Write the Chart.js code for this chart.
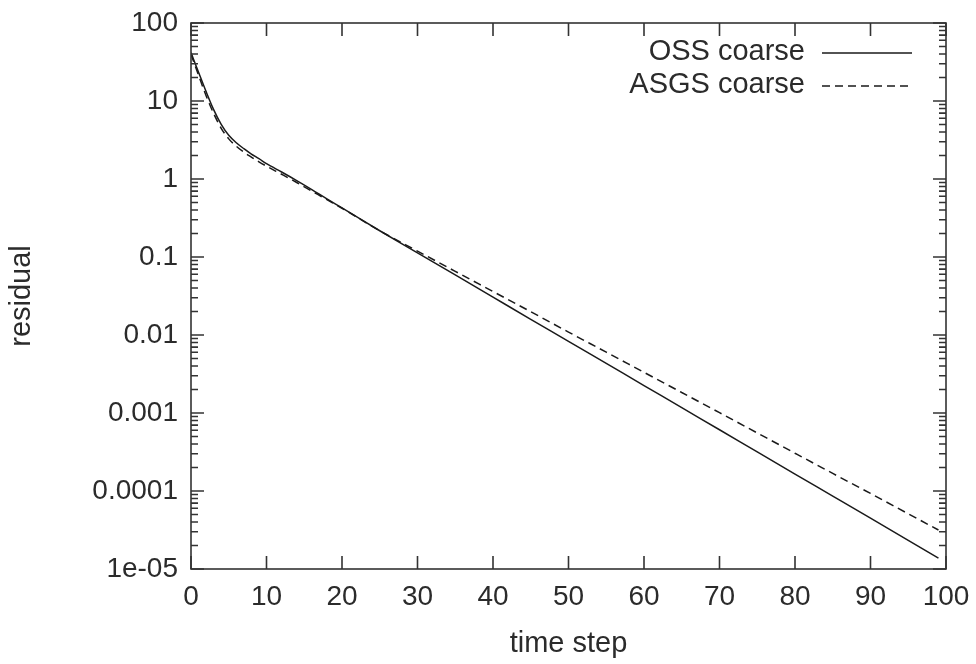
<!DOCTYPE html>
<html><head><meta charset="utf-8">
<script src="https://cdn.jsdelivr.net/npm/chart.js@4.4.0/dist/chart.umd.min.js"></script>
<style>html,body{margin:0;padding:0;background:#fff;}#wrap{width:976px;height:664px;}</style>
</head><body><div id="wrap"><canvas id="c" width="976" height="664"></canvas></div>
<script>
const timeSteps = [0,1,2,3,4,5,6,7,8,9,10,12,14,16,18,20,25,30,35,40,45,50,55,60,65,70,75,80,85,90,95,99];
const ossCoarse = [41.7,23.4,13.2,7.76,5.01,3.63,2.92,2.45,2.09,1.82,1.57,1.23,0.955,0.733,0.556,0.427,0.217,0.113,0.0589,0.0306,0.0159,0.0083,0.00432,0.00225,0.00117,6.1e-4,3.17e-4,1.65e-4,8.6e-5,4.48e-5,2.33e-5,1.38e-5];
const asgsCoarse = [39.8,21.4,11.7,6.92,4.47,3.27,2.63,2.21,1.91,1.66,1.46,1.15,0.902,0.70,0.543,0.422,0.217,0.119,0.0655,0.0361,0.0199,0.0109,0.00603,0.00332,0.00183,0.00101,5.55e-4,3.05e-4,1.68e-4,9.3e-5,5.1e-5,3.16e-5];
const seriesNames = ['OSS coarse','ASGS coarse'];
const xTickValues = [0,10,20,30,40,50,60,70,80,90,100];
const yTickValues = [1e-5,1e-4,1e-3,1e-2,0.1,1,10,100];
const yTickLabels = ['1e-05','0.0001','0.001','0.01','0.1','1','10','100'];
const xTitle = 'time step';
const yTitle = 'residual';

const FONT = "'Liberation Sans', Arial, Helvetica, sans-serif";
const TXT = '#2b2b2b';
const LINE = '#1a1a1a';

const framePlugin = {
  id: 'frame',
  afterDraw(chart) {
    const {ctx, chartArea: {left, right, top, bottom}, scales: {x, y}} = chart;
    ctx.save();
    ctx.strokeStyle = '#333';
    ctx.lineWidth = 1.6;
    ctx.strokeRect(left, top, right - left, bottom - top);
    ctx.beginPath();
    x.ticks.forEach(t => {
      const px = x.getPixelForValue(t.value);
      ctx.moveTo(px, bottom); ctx.lineTo(px, bottom - 13);
      ctx.moveTo(px, top); ctx.lineTo(px, top + 13);
    });
    y.ticks.forEach(t => {
      const py = y.getPixelForValue(t.value);
      ctx.moveTo(left, py); ctx.lineTo(left + 13, py);
      ctx.moveTo(right, py); ctx.lineTo(right - 13, py);
      if (t.value < y.max) {
        for (let m = 2; m <= 9; m++) {
          const pm = y.getPixelForValue(t.value * m);
          ctx.moveTo(left, pm); ctx.lineTo(left + 7, pm);
          ctx.moveTo(right, pm); ctx.lineTo(right - 7, pm);
        }
      }
    });
    ctx.stroke();
    // legend
    ctx.font = '29px ' + FONT;
    ctx.fillStyle = TXT;
    ctx.textAlign = 'right';
    ctx.textBaseline = 'middle';
    const rows = [52, 85];
    chart.data.datasets.forEach((ds, i) => {
      ctx.fillText(ds.label, 805, rows[i]);
      ctx.strokeStyle = ds.borderColor;
      ctx.lineWidth = ds.borderWidth;
      ctx.setLineDash(ds.borderDash || []);
      ctx.beginPath();
      ctx.moveTo(822, rows[i] + 1); ctx.lineTo(912, rows[i] + 1);
      ctx.stroke();
    });
    ctx.restore();
  }
};

new Chart(document.getElementById('c'), {
  type: 'line',
  data: {
    datasets: [
      {label: seriesNames[0], data: timeSteps.map((t, i) => ({x: t, y: ossCoarse[i]})),
       borderColor: LINE, borderWidth: 1.5, pointRadius: 0, cubicInterpolationMode: 'monotone', fill: false},
      {label: seriesNames[1], data: timeSteps.map((t, i) => ({x: t, y: asgsCoarse[i]})),
       borderColor: LINE, borderWidth: 1.5, borderDash: [8, 5], pointRadius: 0, cubicInterpolationMode: 'monotone', fill: false}
    ]
  },
  options: {
    responsive: false,
    animation: false,
    devicePixelRatio: 1,
    layout: {padding: {top: 23, right: 30, left: 0, bottom: 0}},
    plugins: {legend: {display: false}, tooltip: {enabled: false}},
    scales: {
      x: {
        type: 'linear', min: 0, max: 100,
        afterBuildTicks: s => { s.ticks = xTickValues.map(v => ({value: v})); },
        afterFit: s => { s.height = 95; s.paddingLeft = 0; s.paddingRight = 0; },
        grid: {display: false},
        border: {display: false},
        ticks: {autoSkip: false, maxRotation: 0, padding: 3, color: TXT, font: {family: FONT, size: 28}},
        title: {display: true, text: xTitle, color: TXT, font: {family: FONT, size: 29}, padding: {top: 0, bottom: 3}}
      },
      y: {
        type: 'logarithmic', min: 1e-5, max: 100,
        afterBuildTicks: s => { s.ticks = yTickValues.map(v => ({value: v})); },
        afterFit: s => { s.width = 191; s.paddingTop = 0; s.paddingBottom = 0; },
        grid: {display: false},
        border: {display: false},
        ticks: {autoSkip: false, padding: 5, color: TXT, font: {family: FONT, size: 28},
          callback: (v, i) => yTickLabels[i]},
        title: {display: true, text: yTitle, color: TXT, font: {family: FONT, size: 29}, padding: {top: 5, bottom: 0}}
      }
    }
  },
  plugins: [framePlugin]
});
</script></body></html>
